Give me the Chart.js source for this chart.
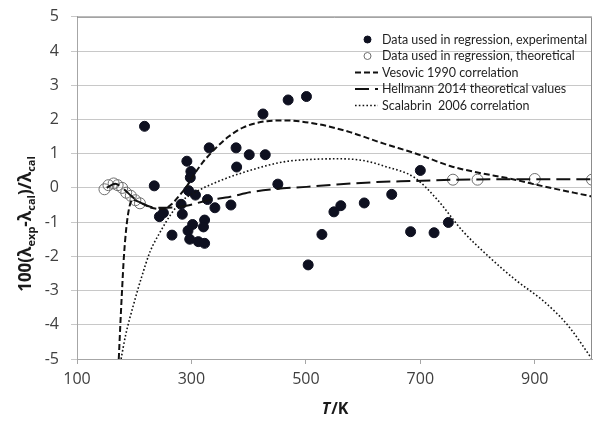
<!DOCTYPE html>
<html>
<head>
<meta charset="utf-8">
<script src="https://cdn.jsdelivr.net/npm/chart.js@4.4.1/dist/chart.umd.min.js"></script>
<style>
  html, body { margin: 0; padding: 0; background: #fff; }
  #wrap { width: 604px; height: 424px; position: relative; }
</style>
</head>
<body>
<div id="wrap"><canvas id="chart"></canvas></div>
<script>
// Deviation plot: experimental / theoretical data and three correlations

const xTicks = [100, 300, 500, 700, 900];
const yTicks = [-5, -4, -3, -2, -1, 0, 1, 2, 3, 4, 5];

// experimental points (T/K, deviation %)
const expT = [218, 235, 244, 251, 266, 282, 284, 292, 299, 298, 295, 307, 302, 294, 297, 312, 323, 323, 321, 328,
  331, 341, 369, 378, 379, 401, 425, 429, 451, 469, 501, 504, 528, 549, 561, 602, 650, 683, 700, 724, 749];
const expY = [1.8, 0.06, -0.84, -0.73, -1.38, -0.48, -0.77, 0.78, 0.48, 0.30, -0.08, -0.21, -1.07, -1.25, -1.50, -1.57, -1.62, -0.94, -1.14, -0.34,
  1.17, -0.58, -0.50, 1.17, 0.61, 0.97, 2.16, 0.97, 0.11, 2.57, 2.67, -2.25, -1.36, -0.70, -0.52, -0.44, -0.19, -1.28, 0.51, -1.31, -1.01];

// theoretical points
const thT = [148, 155, 164, 171, 179, 186, 194, 202, 210, 757, 800, 900, 1000];
const thY = [-0.04, 0.08, 0.13, 0.08, 0.0, -0.14, -0.23, -0.36, -0.45, 0.24, 0.24, 0.26, 0.24];

// Vesovic 1990 correlation
const vesT = [173, 176, 179, 182, 186, 191, 197, 210, 230, 250, 265, 280, 292, 305, 320, 340, 365, 391, 432, 465, 519, 577, 635, 693, 752, 800, 857, 914, 1000];
const vesY = [-5, -3.9, -2.9, -2.0, -1.2, -0.6, -0.35, -0.42, -0.58, -0.62, -0.48, -0.2, 0.05, 0.4, 0.75, 1.12, 1.5, 1.77, 1.95, 1.97, 1.87, 1.63, 1.3, 1.0, 0.64, 0.45, 0.27, 0.05, -0.25];

// Hellmann 2014 theoretical values
const helT = [152, 160, 167, 175, 185, 195, 210, 228, 250, 291, 327, 368, 402, 449, 501, 554, 624, 682, 728, 760, 850, 1000];
const helY = [0.0, 0.08, 0.12, 0.06, -0.08, -0.24, -0.42, -0.55, -0.58, -0.52, -0.37, -0.26, -0.13, -0.03, 0.03, 0.1, 0.17, 0.2, 0.22, 0.24, 0.25, 0.25];

// Scalabrin 2006 correlation
const scaT = [177, 185, 199, 213, 228, 245, 263, 282, 304, 344, 402, 461, 519, 560, 600, 640, 690, 730, 774, 821, 868, 914, 957, 1000];
const scaY = [-5, -4.3, -3.4, -2.6, -1.85, -1.3, -0.8, -0.4, -0.15, 0.17, 0.51, 0.76, 0.84, 0.85, 0.8, 0.62, 0.3, -0.35, -1.26, -2.03, -2.71, -3.29, -4.0, -5];

const labels = [
  'Data used in regression, experimental',
  'Data used in regression, theoretical',
  'Vesovic 1990 correlation',
  'Hellmann 2014 theoretical values',
  'Scalabrin  2006 correlation'
];

function pts(xs, ys) {
  return xs.map((x, i) => ({ x: x, y: ys[i] }));
}

// legend drawn by hand so line samples keep their dash patterns
const sideLegend = {
  id: 'sideLegend',
  afterDraw(chart) {
    const ctx = chart.ctx;
    ctx.save();
    chart.data.datasets.forEach((ds, i) => {
      const y = 39.5 + i * 16.5;
      if (ds.showLine) {
        ctx.strokeStyle = ds.borderColor;
        ctx.lineWidth = ds.borderWidth;
        ctx.setLineDash(ds.borderDash || []);
        ctx.beginPath();
        ctx.moveTo(355, y);
        ctx.lineTo(378, y);
        ctx.stroke();
        ctx.setLineDash([]);
      } else {
        ctx.beginPath();
        ctx.arc(367.5, y, ds.legendRadius, 0, Math.PI * 2);
        if (ds.pointBackgroundColor !== 'transparent') {
          ctx.fillStyle = ds.pointBackgroundColor;
          ctx.fill();
        }
        ctx.strokeStyle = ds.pointBorderColor;
        ctx.lineWidth = 1;
        ctx.stroke();
      }
      ctx.fillStyle = '#1f1f1f';
      ctx.font = '12.5px Lato';
      ctx.textBaseline = 'middle';
      ctx.textAlign = 'left';
      ctx.fillText(ds.label, 382, y);
    });
    ctx.restore();
  }
};

// axis titles with italic / subscript parts, plus top and right frame
const axisDecor = {
  id: 'axisDecor',
  afterDraw(chart) {
    const ctx = chart.ctx;
    const area = chart.chartArea;
    ctx.save();

    ctx.strokeStyle = '#8c8c8c';
    ctx.lineWidth = 1;
    ctx.beginPath();
    ctx.moveTo(area.left, area.top + 0.5);
    ctx.lineTo(area.right - 0.5, area.top + 0.5);
    ctx.lineTo(area.right - 0.5, area.bottom);
    ctx.stroke();

    ctx.fillStyle = '#1a1a1a';
    ctx.textBaseline = 'alphabetic';
    ctx.textAlign = 'left';

    // x title: T/K
    const fT = 'italic bold 16px "Open Sans"';
    const fK = 'bold 16px "Open Sans"';
    ctx.font = fT;
    const wT = ctx.measureText('T').width;
    ctx.font = fK;
    const wK = ctx.measureText('/K').width;
    let x0 = (area.left + area.right) / 2 - (wT + wK) / 2;
    ctx.font = fT;
    ctx.fillText('T', x0, 414);
    ctx.font = fK;
    ctx.fillText('/K', x0 + wT + 1, 414);

    // y title: 100(λexp-λcal)/λcal
    const parts = [['100(λ', 0], ['exp', 1], ['-λ', 0], ['cal', 1], [')/λ', 0], ['cal', 1]];
    const big = 'bold 17px "Open Sans"';
    const small = 'bold 11px "Open Sans"';
    let total = 0;
    parts.forEach(p => { ctx.font = p[1] ? small : big; total += ctx.measureText(p[0]).width; });
    ctx.translate(31, 224);
    ctx.rotate(-Math.PI / 2);
    let cx = -total / 2;
    parts.forEach(p => {
      ctx.font = p[1] ? small : big;
      ctx.fillText(p[0], cx, p[1] ? 4 : 0);
      cx += ctx.measureText(p[0]).width;
    });
    ctx.restore();
  }
};

Chart.defaults.font.family = '"Open Sans"';

const ctx = document.getElementById('chart').getContext('2d');
new Chart(ctx, {
  type: 'scatter',
  data: {
    datasets: [
      {
        label: labels[0],
        data: pts(expT, expY),
        pointRadius: 5,
        pointHoverRadius: 5,
        legendRadius: 3.5,
        pointBackgroundColor: '#0e1020',
        pointBorderColor: '#0e1020',
        showLine: false,
        order: 3
      },
      {
        label: labels[1],
        data: pts(thT, thY),
        pointRadius: 5.5,
        pointHoverRadius: 5.5,
        legendRadius: 3.5,
        pointBackgroundColor: 'transparent',
        pointBorderColor: '#6e6e6e',
        pointBorderWidth: 1,
        showLine: false,
        order: 2
      },
      {
        label: labels[2],
        data: pts(vesT, vesY),
        showLine: true,
        pointRadius: 0,
        borderColor: '#111',
        borderWidth: 2,
        borderDash: [6, 3],
        cubicInterpolationMode: 'monotone',
        order: 1
      },
      {
        label: labels[3],
        data: pts(helT, helY),
        showLine: true,
        pointRadius: 0,
        borderColor: '#111',
        borderWidth: 2,
        borderDash: [14, 6],
        cubicInterpolationMode: 'monotone',
        order: 1
      },
      {
        label: labels[4],
        data: pts(scaT, scaY),
        showLine: true,
        pointRadius: 0,
        borderColor: '#111',
        borderWidth: 1.6,
        borderDash: [1.6, 2.2],
        cubicInterpolationMode: 'monotone',
        order: 1
      }
    ]
  },
  options: {
    responsive: true,
    maintainAspectRatio: false,
    animation: false,
    layout: { padding: { top: 14, right: 12, left: 0, bottom: 0 } },
    plugins: {
      legend: { display: false },
      tooltip: { enabled: false }
    },
    scales: {
      x: {
        type: 'linear',
        min: 100,
        max: 1000,
        afterBuildTicks: scale => { scale.ticks = xTicks.map(v => ({ value: v })); },
        afterFit: scale => { scale.height = 65; },
        grid: { drawOnChartArea: false, drawTicks: true, tickLength: 5, color: '#a6a6a6' },
        border: { color: '#a6a6a6' },
        ticks: { color: '#404040', font: { size: 16 }, padding: 6, maxRotation: 0 }
      },
      y: {
        min: -5,
        max: 5,
        afterBuildTicks: scale => { scale.ticks = yTicks.map(v => ({ value: v })); },
        afterFit: scale => { scale.width = 77; },
        grid: { color: '#c8c8c8', tickLength: 6 },
        border: { color: '#a6a6a6' },
        ticks: { color: '#404040', font: { size: 16, lineHeight: 0.6 }, padding: 12 }
      }
    }
  },
  plugins: [sideLegend, axisDecor]
});
</script>
</body>
</html>
